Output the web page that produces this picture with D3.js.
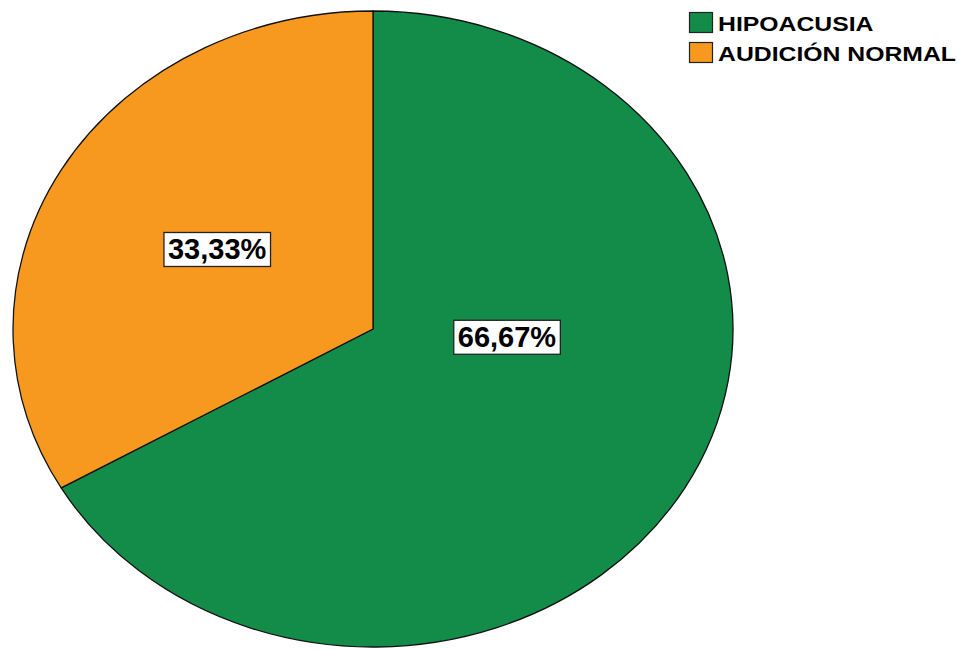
<!DOCTYPE html>
<html>
<head>
<meta charset="utf-8">
<script src="https://cdn.jsdelivr.net/npm/d3@7"></script>
<style>
  html, body { margin: 0; padding: 0; background: #fff; }
  svg { display: block; }
</style>
</head>
<body>
<svg id="chart" width="959" height="649"></svg>
<script>
// Categories and their shares (percent)
const categories = ["HIPOACUSIA", "AUDICIÓN NORMAL"];
const values = [66.67, 33.33];
const valueLabels = ["66,67%", "33,33%"];
const colors = ["#128c48", "#f7991f"];

const W = 959, H = 649;
const cx = 373, cy = 329;      // pie centre
const rx = 360, ry = 318;      // elliptical radii
const R = 100;                 // base circle radius before scaling
const FONT = "Liberation Sans, Arial, sans-serif";

const svg = d3.select("#chart");

const pie = d3.pie().sort(null).value(d => d.value);
const data = categories.map((c, i) => ({ name: c, value: values[i], label: valueLabels[i], color: colors[i] }));
const arcs = pie(data);
const arc = d3.arc().innerRadius(0).outerRadius(R);

const g = svg.append("g")
  .attr("transform", `translate(${cx},${cy}) scale(${rx / R},${ry / R})`);

g.selectAll("path")
  .data(arcs)
  .join("path")
  .attr("d", arc)
  .attr("fill", d => d.data.color)
  .attr("stroke", "#111")
  .attr("stroke-width", 1.3)
  .attr("stroke-linejoin", "round")
  .attr("vector-effect", "non-scaling-stroke");

// Label anchor: fraction of the radius along a chosen angle for each slice
const labelPlacement = [
  { angle: 94 * Math.PI / 180, frac: 0.373 },
  { angle: null, frac: 0.5 }
];

const labels = svg.append("g");
arcs.forEach((d, i) => {
  const p = labelPlacement[i];
  const a = p.angle == null ? (d.startAngle + d.endAngle) / 2 : p.angle;
  const x = cx + Math.sin(a) * rx * p.frac;
  const y = cy - Math.cos(a) * ry * p.frac;
  const lg = labels.append("g").attr("transform", `translate(${x},${y})`);
  const t = lg.append("text")
    .attr("text-anchor", "middle")
    .attr("dominant-baseline", "central")
    .attr("font-family", FONT)
    .attr("font-weight", "bold")
    .attr("font-size", 29)
    .attr("fill", "#000")
    .text(d.data.label);
  const bb = t.node().getBBox();
  lg.insert("rect", "text")
    .attr("x", bb.x - 4)
    .attr("y", bb.y - 1)
    .attr("width", bb.width + 8)
    .attr("height", bb.height + 2)
    .attr("fill", "#fff")
    .attr("stroke", "#222")
    .attr("stroke-width", 1.3);
});

// Legend
const legend = svg.append("g").attr("transform", "translate(689,12)");
const item = legend.selectAll("g")
  .data(data)
  .join("g")
  .attr("transform", (d, i) => `translate(0,${i * 30})`);
item.append("rect")
  .attr("x", 0.5).attr("y", 0.5)
  .attr("width", 23).attr("height", 20)
  .attr("fill", d => d.color)
  .attr("stroke", "#222")
  .attr("stroke-width", 1.2);
item.append("text")
  .attr("transform", "translate(29,19) scale(1.18,1)")
  .attr("font-family", FONT)
  .attr("font-weight", "bold")
  .attr("font-size", 21)
  .attr("fill", "#000")
  .text(d => d.name);
</script>
</body>
</html>
